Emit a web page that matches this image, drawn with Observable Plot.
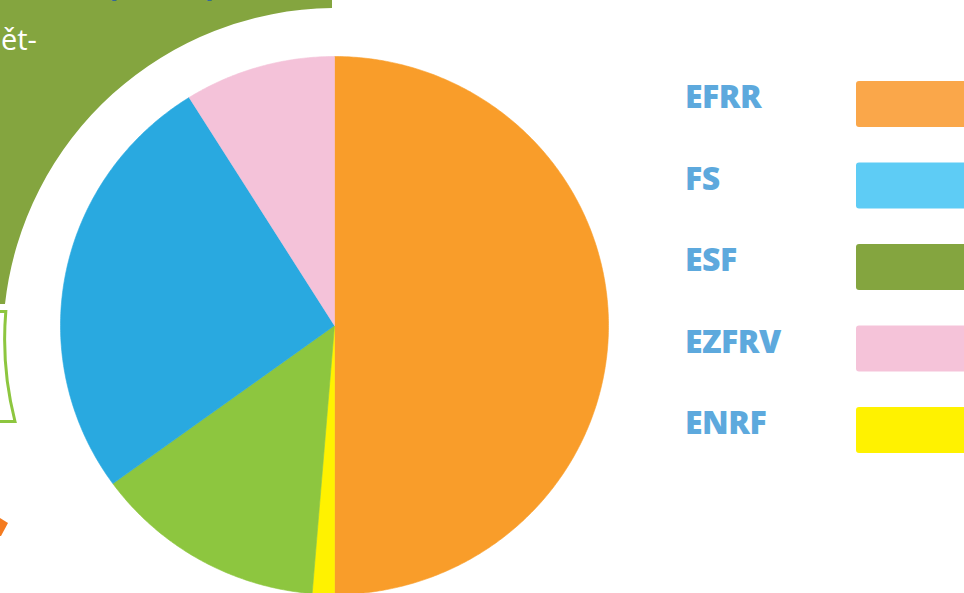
<!DOCTYPE html>
<html>
<head>
<meta charset="utf-8">
<script src="https://cdn.jsdelivr.net/npm/d3@7"></script>
<script src="https://cdn.jsdelivr.net/npm/@observablehq/plot@0.6"></script>
<style>
  html, body { margin: 0; padding: 0; background: #fff; }
  #wrap { position: relative; width: 964px; height: 593px; overflow: hidden; background: #fff; }
  #wrap > svg { position: absolute; left: 0; top: 0; }
  #deco { pointer-events: none; }
</style>
</head>
<body>
<div id="wrap"></div>
<script>
// ---- data ----
const categories = ["EFRR", "FS", "ESF", "EZFRV", "ENRF"];
const shares = [50.0, 26.1, 13.7, 8.9, 1.3];          // % of the pie
const pieOrder = ["EFRR", "ENRF", "ESF", "FS", "EZFRV"]; // clockwise from 12 o'clock
const pieColors = ["#F99D2A", "#29A9E0", "#8DC63F", "#F4C2D9", "#FFF200"];     // per category
const legendColors = ["#FAA74A", "#5ECCF5", "#84A53F", "#F5C3D9", "#FFF200"];  // per category

// ---- build slice outlines from the shares ----
const shareOf = new Map(categories.map((c, i) => [c, shares[i]]));
const total = d3.sum(shares);
const slicePts = [];
let acc = 0;
for (const name of pieOrder) {
  const a0 = acc / total * 2 * Math.PI;
  acc += shareOf.get(name);
  const a1 = acc / total * 2 * Math.PI;
  const n = Math.max(2, Math.ceil((a1 - a0) / (Math.PI / 360)));
  slicePts.push({name, x: 0, y: 0});
  for (let k = 0; k <= n; k++) {
    const a = a0 + (a1 - a0) * k / n;
    slicePts.push({name, x: Math.sin(a), y: Math.cos(a)});
  }
  slicePts.push({name, x: 0, y: 0});
}

const chart = Plot.plot({
  width: 964,
  height: 593,
  margin: 0,
  style: {background: "transparent", overflow: "visible"},
  x: {domain: [-1, 1], range: [60, 608], axis: null},
  y: {domain: [-1, 1], range: [594, 56], axis: null},
  color: {domain: categories, range: pieColors},
  marks: [
    Plot.line(slicePts, {x: "x", y: "y", z: "name", fill: "name", stroke: "name", strokeWidth: 0.6, curve: "linear"})
  ]
});
document.getElementById("wrap").appendChild(chart);

// ---- background decorations + legend ----
const NS = "http://www.w3.org/2000/svg";
const deco = d3.select("#wrap").append("svg")
  .attr("id", "deco").attr("width", 964).attr("height", 593)
  .attr("xmlns", NS);

deco.append("path")
  .attr("d", "M0,0 H332 V8 A333,333 0 0,0 5,304 H0 Z")
  .attr("fill", "#84A53F");
deco.append("path")
  .attr("d", "M-5,311.5 H5.8 A331.5,331.5 0 0,0 15,421.5 H-5")
  .attr("fill", "none").attr("stroke", "#8DC63F").attr("stroke-width", 3);
deco.append("path")
  .attr("d", "M0,518 L8,523 L1,536 L0,536 Z")
  .attr("fill", "#F47B20");
deco.append("text")
  .attr("x", 1).attr("y", 50)
  .attr("font-family", "'Open Sans', sans-serif").attr("font-size", 29)
  .attr("fill", "#ffffff").text("ět-");
deco.append("text")
  .attr("x", 106).attr("y", -5)
  .attr("font-family", "'Open Sans', sans-serif").attr("font-weight", 700).attr("font-size", 34)
  .attr("fill", "#1E5AA8").text("(");
deco.append("text")
  .attr("x", 206).attr("y", -5)
  .attr("font-family", "'Open Sans', sans-serif").attr("font-weight", 700).attr("font-size", 34)
  .attr("fill", "#1E5AA8").text(")");

const lg = deco.append("g");
categories.forEach((c, i) => {
  const top = 81 + i * 81.5;
  lg.append("rect")
    .attr("x", 856).attr("y", top).attr("width", 130).attr("height", 46)
    .attr("rx", 3).attr("fill", legendColors[i]);
  lg.append("text")
    .attr("x", 685).attr("y", top + 27)
    .attr("font-family", "'Open Sans', sans-serif").attr("font-weight", 800).attr("font-size", 32)
    .attr("letter-spacing", -0.5)
    .attr("fill", "#5DA9DD").text(c);
});
</script>
</body>
</html>
